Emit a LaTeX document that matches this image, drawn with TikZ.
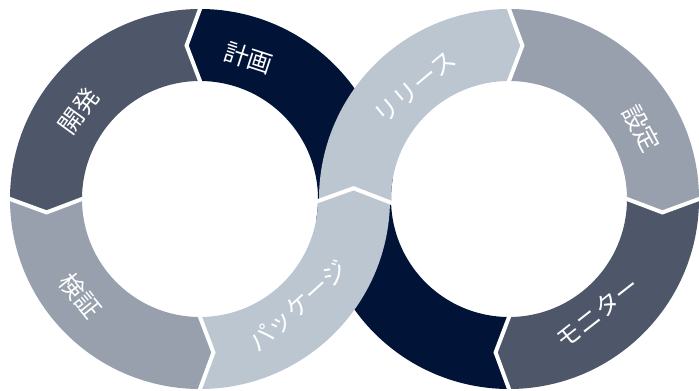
\documentclass[tikz,border=0pt]{standalone}
\usepackage{fontspec}
\newfontfamily\jpfont{Noto Sans CJK JP}
\usetikzlibrary{calc}
\definecolor{navyc}{HTML}{011438}
\definecolor{slatec}{HTML}{4E5769}
\definecolor{midc}{HTML}{97A0AC}
\definecolor{lightc}{HTML}{BCC6D1}
\def\rOut{190}
\def\rIn{118}
\def\rMid{154}
% #1 centre, #2 tail angle, #3 head angle, #4 tail notch offset, #5 head point offset, #6 colour
\newcommand\ringseg[6]{%
  \fill[#6,shift={(#1)}] (#2:\rOut) -- ({#2+#4}:\rMid) -- (#2:\rIn)
    arc[start angle=#2, end angle=#3, radius=\rIn]
    -- ({#3+#5}:\rMid) -- (#3:\rOut)
    arc[start angle=#3, end angle=#2, radius=\rOut] -- cycle;}
% #1 centre, #2 seam angle, #3 point offset
\newcommand\ringseam[3]{%
  \draw[seamline,shift={(#1)}] (#2:\rOut) -- ({#2+#3}:\rMid) -- (#2:\rIn);}
\begin{document}
\begin{tikzpicture}[x=0.03cm,y=0.03cm,
  seamline/.style={white,line width=0.12cm,shorten <=-3pt,shorten >=-3pt},
  lbl/.style={text=white,font=\jpfont\fontsize{21}{25}\selectfont,inner sep=0pt}]
\useasboundingbox (0,0) rectangle (699,390);
\coordinate (L) at (200,191);
\coordinate (R) at (509,191);
% navy band (under the crossing)
\ringseg{L}{-10}{90}{0}{5}{navyc}
\ringseg{R}{270}{170}{-5}{0}{navyc}
% left ring
\ringseg{L}{90}{180}{5}{5}{slatec}
\ringseg{L}{180}{270}{5}{5}{midc}
% right ring
\ringseg{R}{90}{0}{-5}{-5}{midc}
\ringseg{R}{0}{-90}{-5}{-5}{slatec}
% light band (over the crossing)
\ringseg{L}{270}{359}{5}{5}{lightc}
\ringseg{R}{181}{90}{-5}{-5}{lightc}
% seams
\ringseam{L}{90}{5}
\ringseam{L}{180}{5}
\ringseam{L}{270}{5}
\ringseam{L}{-1}{5}
\ringseam{R}{90}{-5}
\ringseam{R}{0}{-5}
\ringseam{R}{270}{-5}
% labels
\node[lbl,rotate=-18] (plan) at ($(L)+(71:149)$) {計画};
\node[lbl,rotate=54] (dev) at ($(L)+(144:150)$) {開発};
\node[lbl,rotate=-51] (test) at ($(L)+(219:154)$) {検証};
\node[lbl,rotate=42] (pkg) at ($(L)+(-47.5:145)$) {パッケージ};
\node[lbl,rotate=40] (rel) at ($(R)+(130:146)$) {リリース};
\node[lbl,rotate=-62] (cfg) at ($(R)+(28:150)$) {設定};
\node[lbl,rotate=38] (mon) at ($(R)+(-52:144)$) {モニター};
\end{tikzpicture}
\end{document}
